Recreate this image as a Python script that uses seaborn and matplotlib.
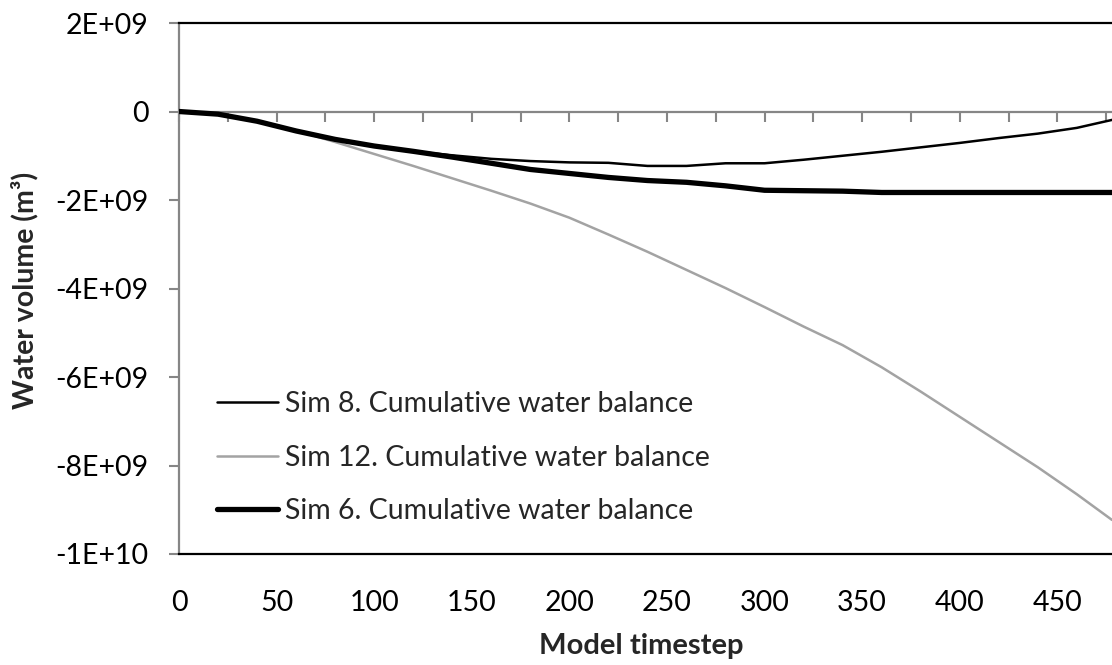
import matplotlib
matplotlib.use("Agg")
import matplotlib.pyplot as plt
import seaborn as sns
import numpy as np
import pandas as pd

# Model timesteps at which the cumulative balances are listed
timestep = [0, 20, 40, 60, 80, 100, 120, 140, 160, 180, 200, 220, 240,
            260, 280, 300, 320, 340, 360, 380, 400, 420, 440, 460, 478]

# Cumulative water balance (m3), one list per simulation
sim8 = [0.0, -0.06e9, -0.22e9, -0.44e9, -0.63e9, -0.78e9, -0.90e9, -0.99e9,
        -1.07e9, -1.12e9, -1.15e9, -1.16e9, -1.23e9, -1.23e9, -1.17e9, -1.17e9,
        -1.09e9, -1.00e9, -0.91e9, -0.81e9, -0.71e9, -0.60e9, -0.50e9,
        -0.37e9, -0.19e9]
sim12 = [0.0, -0.06e9, -0.22e9, -0.43e9, -0.69e9, -0.96e9, -1.23e9, -1.51e9,
         -1.79e9, -2.08e9, -2.40e9, -2.78e9, -3.17e9, -3.58e9, -3.99e9,
         -4.42e9, -4.86e9, -5.28e9, -5.78e9, -6.33e9, -6.90e9, -7.47e9,
         -8.04e9, -8.65e9, -9.23e9]
sim6 = [0.0, -0.06e9, -0.22e9, -0.44e9, -0.63e9, -0.78e9, -0.90e9, -1.03e9,
        -1.17e9, -1.31e9, -1.40e9, -1.49e9, -1.56e9, -1.60e9, -1.68e9,
        -1.78e9, -1.79e9, -1.80e9, -1.83e9, -1.83e9, -1.83e9, -1.83e9,
        -1.83e9, -1.83e9, -1.83e9]

series_names = ["Sim 8. Cumulative water balance",
                "Sim 12. Cumulative water balance",
                "Sim 6. Cumulative water balance"]

ytick_values = [2e9, 0, -2e9, -4e9, -6e9, -8e9, -1e10]
ytick_labels = ["2E+09", "0", "-2E+09", "-4E+09", "-6E+09", "-8E+09", "-1E+10"]
xtick_values = [0, 50, 100, 150, 200, 250, 300, 350, 400, 450]

sns.set_theme(style="white")
plt.rcParams["font.family"] = ["Lato", "DejaVu Sans"]

W, H = 1112, 665
fig = plt.figure(figsize=(W / 100, H / 100), dpi=100)
ax_l, ax_r, ax_t, ax_b = 179, 1112, 23, 554
ax = fig.add_axes([ax_l / W, 1 - ax_b / H, (ax_r - ax_l) / W, (ax_b - ax_t) / H])

styles = [
    dict(color="black", linewidth=1.8, zorder=3),
    dict(color="#a3a3a3", linewidth=1.8, zorder=2),
    dict(color="black", linewidth=3.8, zorder=4),
]
for vals, name, st in zip([sim8, sim12, sim6], series_names, styles):
    sns.lineplot(x=timestep, y=vals, ax=ax, label=name, **st)

ax.set_xlim(0, 478)
ax.set_ylim(-1e10, 2e9)

# y axis: grey spine and outward ticks
ax.set_yticks(ytick_values)
ax.set_yticklabels(ytick_labels)
ax.tick_params(axis="y", which="major", left=True, direction="out",
               length=7, width=1.5, color="#868686", pad=15,
               labelsize=20.5, labelcolor="black")

# x tick labels sit below the plot area, no marks there
ax.set_xticks(xtick_values)
ax.tick_params(axis="x", bottom=False, labelsize=20.5, pad=20,
               labelcolor="black")

for side in ["top", "bottom"]:
    ax.spines[side].set_color("black")
    ax.spines[side].set_linewidth(1.6)
ax.spines["left"].set_color("#868686")
ax.spines["left"].set_linewidth(1.6)
ax.spines["right"].set_visible(False)

# horizontal axis crossing at zero with downward tick marks
zero_axis = ax.secondary_xaxis(0, transform=ax.transData)
zero_axis.set_xticks(np.arange(0, 476, 25))
zero_axis.tick_params(axis="x", direction="out", length=7, width=1.5,
                      color="#868686", labelbottom=False)
zero_axis.spines["bottom"].set_color("#868686")
zero_axis.spines["bottom"].set_linewidth(1.6)

ax.set_xlabel("")
ax.set_ylabel("")
fig.text(641 / W, 1 - 646 / H, "Model timestep", ha="center", va="center",
         fontsize=21, fontweight="bold")
fig.text(25 / W, 1 - 290 / H, "Water volume (m\u00b3)", ha="center",
         va="center", rotation=90, fontsize=20.5, fontweight="bold")

leg = ax.legend(loc="upper left", bbox_to_anchor=(217 / W, 1 - 391 / H),
                bbox_transform=fig.transFigure, frameon=False, fontsize=20.5,
                handlelength=2.15, handletextpad=0.25, labelspacing=0.97,
                borderpad=0, borderaxespad=0)

fig.savefig("out.png", dpi=100)
